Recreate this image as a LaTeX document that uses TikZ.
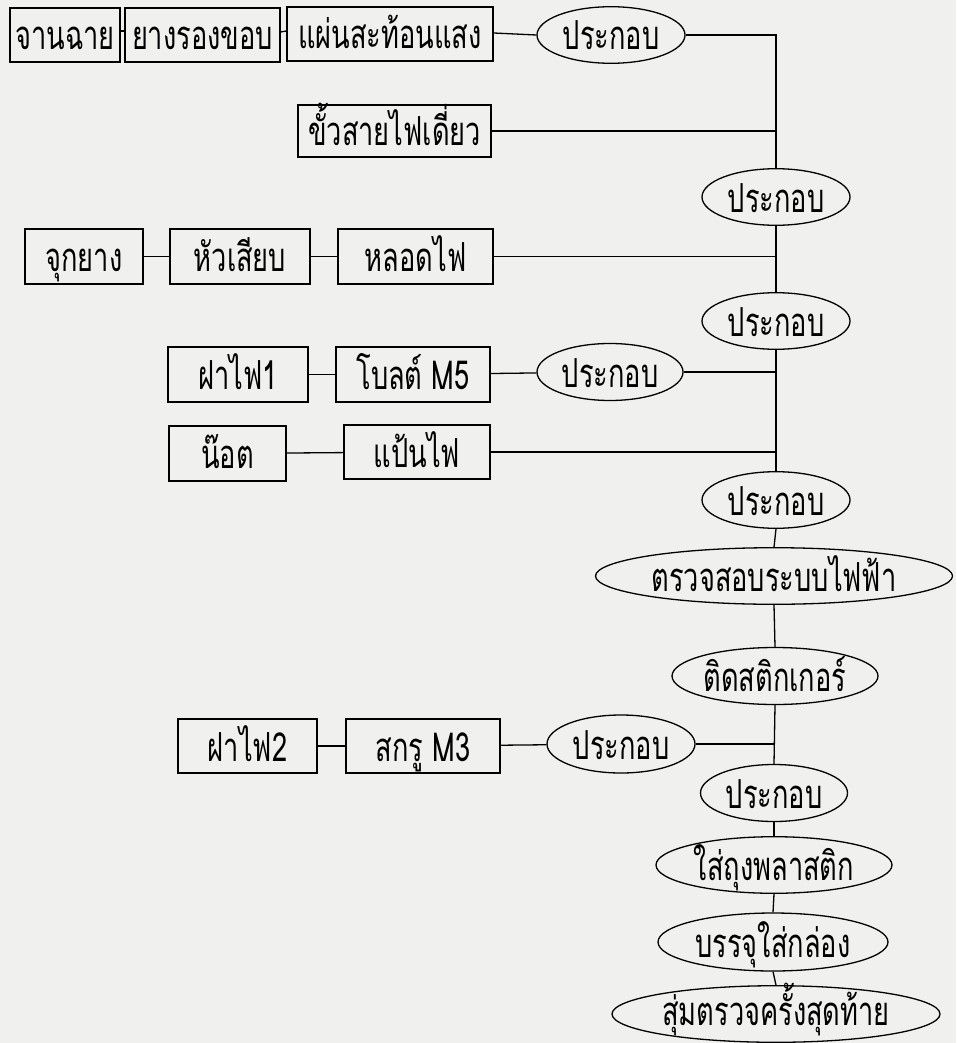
\documentclass[tikz,border=0pt]{standalone}
\usepackage{fontspec}
\usetikzlibrary{shapes.geometric}
\newfontfamily\thaiser[Script=Thai,FakeStretch=0.68]{Loma}
\newfontfamily\thaisan[Script=Thai,FakeStretch=0.68]{Loma}
\definecolor{bgpaper}{RGB}{240,240,238}
\tikzset{
  line/.style={line width=1.3pt, black},
  txtser/.style={font=\thaiser\fontsize{40}{42}\selectfont, text height=30pt, text depth=0pt},
  txtsan/.style={font=\thaisan\fontsize{40}{42}\selectfont, text height=30pt, text depth=0pt},
  boxser/.style={draw, line width=1.3pt, rectangle, inner sep=0pt, minimum height=54pt, txtser},
  boxsan/.style={draw, line width=1.3pt, rectangle, inner sep=0pt, minimum height=54pt, txtsan},
  ellser/.style={draw, line width=1.3pt, ellipse, inner xsep=0pt, inner ysep=5pt, minimum height=56pt, txtser},
  ellsan/.style={draw, line width=1.3pt, ellipse, inner xsep=0pt, inner ysep=5pt, minimum height=56pt, txtsan},
}
\begin{document}
\begin{tikzpicture}[x=1pt,y=-1pt]
\fill[bgpaper] (0,0) rectangle (956,1043);
\useasboundingbox (0,0) rectangle (956,1043);

% row 1
\node[boxser, minimum width=110pt] (b1) at (65,35) {จานฉาย};
\node[boxser, minimum width=155pt] (b2) at (202.5,35) {ยางรองขอบ};
\node[boxser, minimum width=206pt] (b3) at (390,34) {แผ่นสะท้อนแสง};
\node[ellser, minimum width=148pt] (e1) at (611,35) {ประกอบ};
% row 2
\node[boxser, minimum width=193pt, minimum height=52pt] (b4) at (394.5,131) {ขั้วสายไฟเดี่ยว};
\node[ellser, minimum width=148pt] (e2) at (776,197) {ประกอบ};
% row 3
\node[boxsan, minimum width=118pt, minimum height=55pt] (b5) at (84,256.5) {จุกยาง};
\node[boxsan, minimum width=140pt, minimum height=55pt] (b6) at (240,256.5) {หัวเสียบ};
\node[boxsan, minimum width=155pt, minimum height=55pt] (b7) at (415.5,256.5) {หลอดไฟ};
\node[ellser, minimum width=148pt] (e3) at (776,321) {ประกอบ};
% row 4
\node[boxsan, minimum width=140pt, minimum height=55pt] (b8) at (238,374.5) {ฝาไฟ1};
\node[boxsan, minimum width=154pt, minimum height=55pt] (b9) at (413,374.5) {โบลต์ M5};
\node[ellser, minimum width=146pt, minimum height=57pt] (e4) at (610,372) {ประกอบ};
% row 5
\node[boxsan, minimum width=117pt, minimum height=55pt] (b10) at (227.5,453.5) {น๊อต};
\node[boxsan, minimum width=146pt, minimum height=54pt] (b11) at (417,452) {แป้นไฟ};
\node[ellser, minimum width=148pt, minimum height=55pt] (e5) at (776,500) {ประกอบ};
% spine
\node[ellsan, minimum width=357pt, minimum height=55pt] (e6) at (774,576) {ตรวจสอบระบบไฟฟ้า};
\node[ellsan, minimum width=206pt, minimum height=57pt] (e7) at (775,676) {ติดสติกเกอร์};
% row 6
\node[boxsan, minimum width=139pt] (b12) at (247.5,746) {ฝาไฟ2};
\node[boxsan, minimum width=154pt] (b13) at (423,746) {สกรู M3};
\node[ellser, minimum width=148pt, minimum height=58pt] (e8) at (621,744) {ประกอบ};
\node[ellser, minimum width=147pt, minimum height=57pt] (e9) at (774,793) {ประกอบ};
\node[ellser, minimum width=236pt, minimum height=55pt] (e10) at (774,865) {ใส่ถุงพลาสติก};
\node[ellser, minimum width=230pt, minimum height=58pt] (e11) at (773,942) {บรรจุใส่กล่อง};
\node[ellser, minimum width=328pt, minimum height=53pt, text height=22pt, inner ysep=9pt] (e12) at (776,1014) {สุ่มตรวจครั้งสุดท้าย};

\coordinate (c1) at (e1.east -| e2.north);

% connectors
\draw[line] ([yshift=4pt]b1.east) -- ([yshift=4pt]b2.west);
\draw[line] ([yshift=3pt]b2.east) -- ([yshift=3pt]b3.west);
\draw[line] ([yshift=1pt]b3.east) -- (e1.west);
\draw[line] (e1.east) -- (c1) -- (e2.north);
\draw[line] (b4.east) -- (b4.east -| e2.north);
\draw[line] (b5) -- (b6);
\draw[line] (b6) -- (b7);
\draw[line] (e2.south) -- (e3.north);
\draw[line] (b7.east) -- (b7.east -| e3.north);
\draw[line] (b8) -- (b9);
\draw[line] (b9) -- (e4);
\draw[line] (e3.south) -- (e5.north);
\draw[line] (e4.east) -- (e4.east -| e3.south);
\draw[line] (b10) -- (b11);
\draw[line] (b11.east) -- (b11.east -| e3.south);
\draw[line] (e5.south) -- (e6.north);
\draw[line] (e6.south) -- (e7.north);
\draw[line] (b12) -- (b13);
\draw[line] (b13) -- (e8);
\draw[line] (e7.south) -- (e9.north);
\draw[line] (e8.east) -- (e8.east -| e9.north);
\draw[line] (e9.south) -- (e10.north);
\draw[line] (e10.south) -- (e11.north);
\draw[line] (e11.south) -- (e12.north);
\end{tikzpicture}
\end{document}
